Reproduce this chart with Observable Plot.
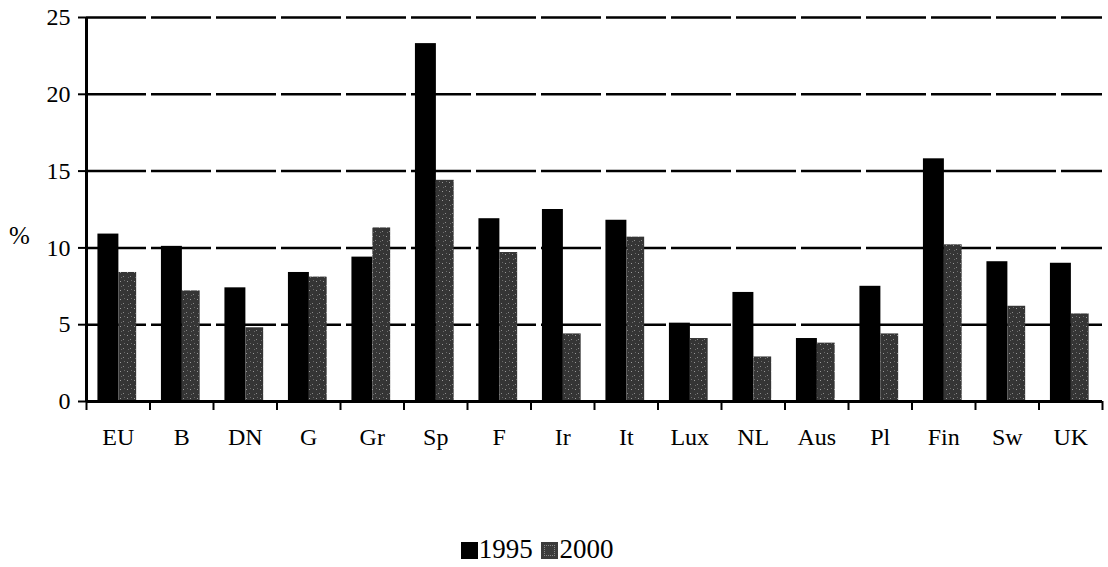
<!DOCTYPE html>
<html><head><meta charset="utf-8">
<script src="https://cdn.jsdelivr.net/npm/d3@7"></script>
<script src="https://cdn.jsdelivr.net/npm/@observablehq/plot@0.6"></script>
<style>
body{margin:0;background:#fff;font-family:"Liberation Serif",serif;}
#wrap{position:relative;width:1108px;height:567px;overflow:hidden;}
#pct{position:absolute;left:9px;top:222px;font-size:25px;}
#legend{position:absolute;left:0;width:1074px;top:534px;text-align:center;font-size:27px;}
.sw{display:inline-block;width:17px;height:17px;vertical-align:-1px;margin-right:1px;}
</style></head><body>
<div id="wrap"><div id="chart"></div><div id="pct">%</div>
<div id="legend"><span class="sw" style="background:#000"></span>1995 <span class="sw" style="background:#3c3c3c;margin-left:2px;outline:1px dotted #888;outline-offset:-4px"></span>2000</div></div>
<script>
const countries = ["EU","B","DN","G","Gr","Sp","F","Ir","It","Lux","NL","Aus","Pl","Fin","Sw","UK"];
const v1995 = [10.9,10.1,7.4,8.4,9.4,23.3,11.9,12.5,11.8,5.1,7.1,4.1,7.5,15.8,9.1,9.0];
const v2000 = [8.4,7.2,4.8,8.1,11.3,14.4,9.7,4.4,10.7,4.1,2.9,3.8,4.4,10.2,6.2,5.7];
const yTicks = [0,5,10,15,20,25];

const rows = countries.map((c,i)=>({i, c, a:v1995[i], b:v2000[i]}));
const chart = Plot.plot({
  width:1108, height:470,
  marginTop:17, marginBottom:69, marginLeft:86, marginRight:6,
  style:{fontFamily:"Liberation Serif, serif", fontSize:"24px", color:"#000", background:"#fff"},
  x:{domain:[0,countries.length]},
  y:{domain:[0,25]},
  marks:[
    Plot.ruleY(yTicks.slice(1), {stroke:"#000", strokeWidth:2.5, strokeDasharray:"60,5"}),
    Plot.rect(rows, {x1:d=>d.i+0.18, x2:d=>d.i+0.51, y1:0, y2:"a", fill:"#000"}),
    Plot.rect(rows, {x1:d=>d.i+0.51, x2:d=>d.i+0.79, y1:0, y2:"b", fill:"url(#spk)"}),
    Plot.axisX(d3.range(0, countries.length+1), {tickSize:9, tickFormat:()=>"", strokeWidth:2, label:null}),
    Plot.axisX(d3.range(countries.length).map(i=>i+0.5), {tickSize:0, tickPadding:26, tickFormat:v=>countries[Math.floor(v)], fontSize:24, label:null}),
    Plot.axisY(yTicks, {tickSize:8, tickPadding:8, fontSize:24, label:null, strokeWidth:2}),
    Plot.ruleX([0], {stroke:"#000", strokeWidth:3}),
    Plot.ruleY([0], {stroke:"#000", strokeWidth:3})
  ]
});
// speckled texture for the 2000 bars
const ns = "http://www.w3.org/2000/svg";
const defs = document.createElementNS(ns, "defs");
defs.innerHTML = `<pattern id="spk" width="7" height="9" patternUnits="userSpaceOnUse">
  <rect width="7" height="9" fill="#353535"/>
  <rect x="1" y="2" width="1" height="1" fill="#9a9a9a"/>
  <rect x="4" y="6" width="1" height="1" fill="#8a8a8a"/>
  <rect x="5" y="1" width="1" height="1" fill="#6a6a6a"/>
  <rect x="2" y="7" width="1" height="1" fill="#6a6a6a"/>
</pattern>`;
chart.insertBefore(defs, chart.firstChild);
document.getElementById("chart").appendChild(chart);
</script>
</body></html>
